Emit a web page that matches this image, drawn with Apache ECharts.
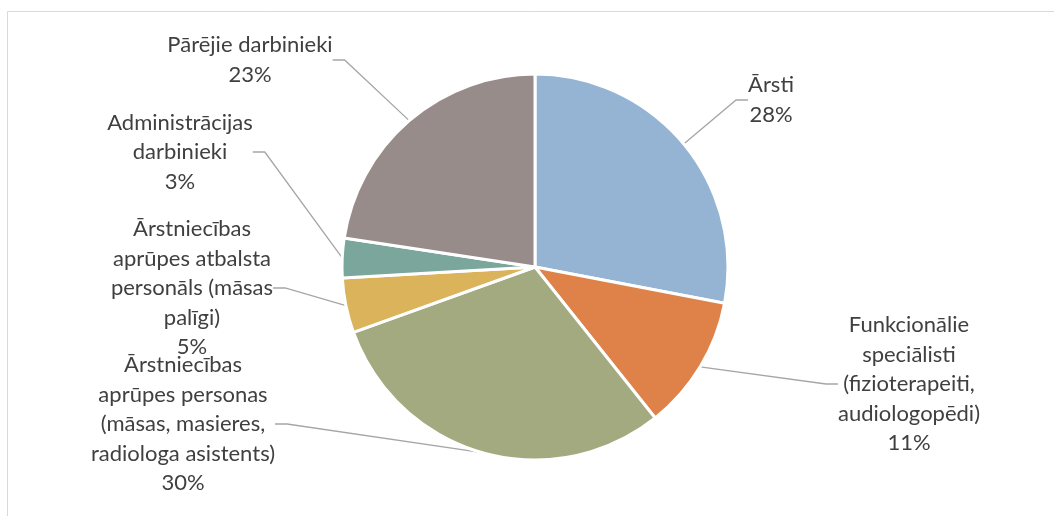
<!DOCTYPE html>
<html>
<head>
<meta charset="utf-8">
<script src="https://cdn.jsdelivr.net/npm/echarts@6/dist/echarts.min.js"></script>
<style>
html,body{margin:0;padding:0;background:#fff;}
#chart{width:1054px;height:516px;}
</style>
</head>
<body>
<div id="chart"></div>
<script>
// Categories (clockwise from top) and their shares (%)
const categories = [
  'Ārsti',
  'Funkcionālie\nspeciālisti\n(fizioterapeiti,\naudiologopēdi)',
  'Ārstniecības\naprūpes personas\n(māsas, masieres,\nradiologa asistents)',
  'Ārstniecības\naprūpes atbalsta\npersonāls (māsas\npalīgi)',
  'Administrācijas\ndarbinieki',
  'Pārējie darbinieki'
];
const shares = [28.0, 11.3, 30.2, 4.6, 3.3, 22.6];
const colors = ['#95B4D4', '#DF8249', '#A4AA80', '#DAB35B', '#7AA69C', '#978C8A'];

// label block centres (layout only)
const labelPos = [
  [771, 100], [909, 384], [183, 424], [192, 288], [180, 152], [250, 60]
];

const chart = echarts.init(document.getElementById('chart'));
chart.setOption({
  animation: false,
  backgroundColor: '#fff',
  graphic: [{
    type: 'rect',
    shape: { x: 7.5, y: 11.5, width: 1100, height: 600 },
    style: { fill: 'none', stroke: '#d9d9d9', lineWidth: 1 },
    silent: true
  }],
  series: [{
    type: 'pie',
    center: [535, 267],
    radius: 193,
    startAngle: 90,
    clockwise: true,
    data: categories.map((c, i) => ({ name: c, value: shares[i], itemStyle: { color: colors[i] } })),
    itemStyle: { borderColor: '#fff', borderWidth: 3 },
    label: {
      show: true,
      position: 'outside',
      fontFamily: 'Lato',
      fontSize: 22,
      lineHeight: 29.5,
      color: '#404040',
      align: 'center',
      formatter: p => p.name + '\n' + Math.round(p.percent) + '%'
    },
    labelLine: {
      show: true,
      length: 20,
      length2: 12,
      lineStyle: { color: '#a6a6a6', width: 1.3 }
    },
    labelLayout: function (params) {
      const pos = labelPos[params.dataIndex];
      return { x: pos[0], y: pos[1], align: 'center', verticalAlign: 'middle' };
    }
  }]
});
</script>
</body>
</html>
